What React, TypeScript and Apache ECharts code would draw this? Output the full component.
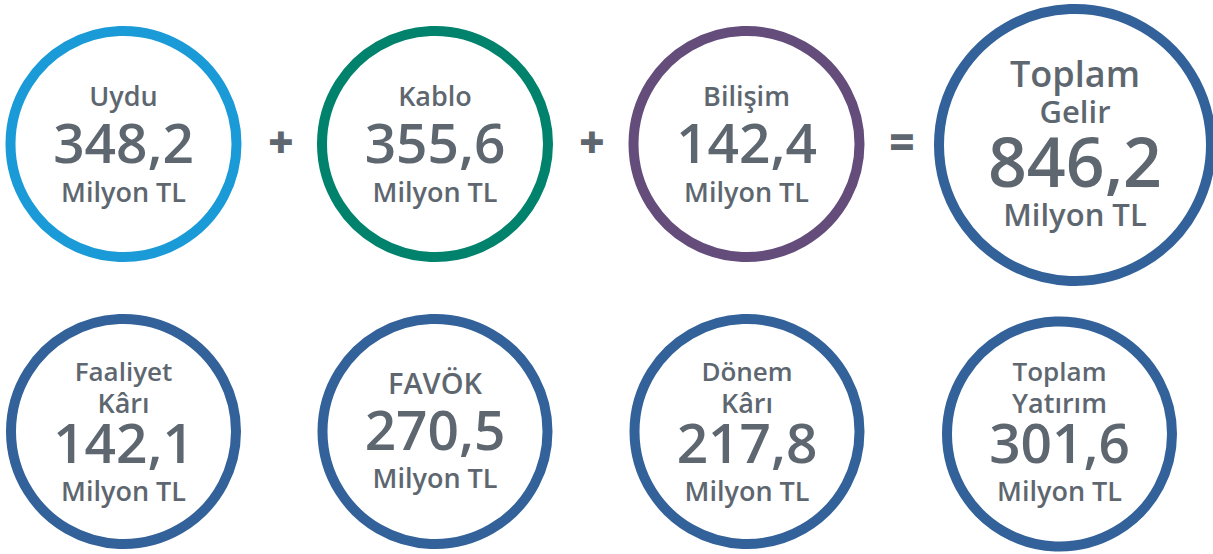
import React, { useEffect, useRef } from "react";
import * as echarts from "echarts";

// ---- data ----
const segmentLabels = ["Uydu", "Kablo", "Bilişim"];
const segmentValues = [348.2, 355.6, 142.4];
const operators = ["+", "+", "="];
const totalLabelLines = ["Toplam", "Gelir"];
const totalValue = 846.2;
const kpiLabelLines = [["Faaliyet", "Kârı"], ["FAVÖK"], ["Dönem", "Kârı"], ["Toplam", "Yatırım"]];
const kpiValues = [142.1, 270.5, 217.8, 301.6];
const unitText = "Milyon TL";

// ---- styles / layout ----
const segmentColors = ["#1a9bd7", "#00826c", "#644c7b"];
const kpiColor = "#336199";
const textColor = "#5e6770";
const FONT = "'Open Sans', sans-serif";

const fmt = (v: number) => v.toFixed(1).replace(".", ",");

function txt(text: string, x: number, y: number, size: number, weight: number | string) {
  return {
    type: "text",
    x,
    y,
    style: {
      text,
      fill: textColor,
      font: `${weight} ${size}px ${FONT}`,
      lineHeight: Math.round(size * 0.78),
      textAlign: "center",
      textVerticalAlign: "middle",
    },
    silent: true,
  };
}

function ring(cx: number, cy: number, r: number, color: string, lw: number) {
  return {
    type: "circle",
    shape: { cx, cy, r },
    style: { fill: "#fff", stroke: color, lineWidth: lw },
    silent: true,
  };
}

export default function App() {
  const ref = useRef<HTMLDivElement>(null);
  useEffect(() => {
    if (!ref.current) return;
    const chart = echarts.init(ref.current, undefined, { renderer: "svg" });
    const els: any[] = [];

    const topX = [123.5, 435, 746.5];
    const topY = 144;
    segmentLabels.forEach((lab, i) => {
      els.push(ring(topX[i], topY, 113, segmentColors[i], 10));
      els.push(txt(lab, topX[i], 95, 27, 600));
      els.push(txt(fmt(segmentValues[i]), topX[i], 141, 55, 600));
      els.push(txt(unitText, topX[i], 191, 27, 600));
    });
    const opX = [281, 592, 902];
    operators.forEach((op, i) => {
      els.push(txt(op, opX[i], 141, 44, 800));
    });
    // total
    const tx = 1075, ty = 145;
    els.push(ring(tx, ty, 136, kpiColor, 10));
    els.push(txt(totalLabelLines[0], tx, 73, 36, 600));
    els.push(txt(totalLabelLines[1], tx, 111, 31, 600));
    els.push(txt(fmt(totalValue), tx, 160.5, 68, 600));
    els.push(txt(unitText, tx, 213.5, 31, 600));

    // KPIs
    const bx = [123.5, 435, 747, 1059.5];
    const by = [431.5, 431.5, 431.5, 434];
    kpiLabelLines.forEach((lines, i) => {
      els.push(ring(bx[i], by[i], 112.5, kpiColor, 10));
      if (lines.length === 2) {
        els.push(txt(lines[0], bx[i], 371, 26, 600));
        els.push(txt(lines[1], bx[i], 402, 27, 600));
        els.push(txt(fmt(kpiValues[i]), bx[i], 441.5, 55, 600));
        els.push(txt(unitText, bx[i], 490.5, 27, 600));
      } else {
        els.push(txt(lines[0], bx[i], 382.5, 29, 600));
        els.push(txt(fmt(kpiValues[i]), bx[i], 428.5, 55, 600));
        els.push(txt(unitText, bx[i], 477.5, 27, 600));
      }
    });

    chart.setOption({
      animation: false,
      backgroundColor: "#ffffff",
      graphic: { elements: els },
    });
    return () => chart.dispose();
  }, []);
  return (
    <div
      ref={ref}
      style={{ position: "fixed", left: 0, top: 0, width: 1213, height: 554 }}
    />
  );
}
